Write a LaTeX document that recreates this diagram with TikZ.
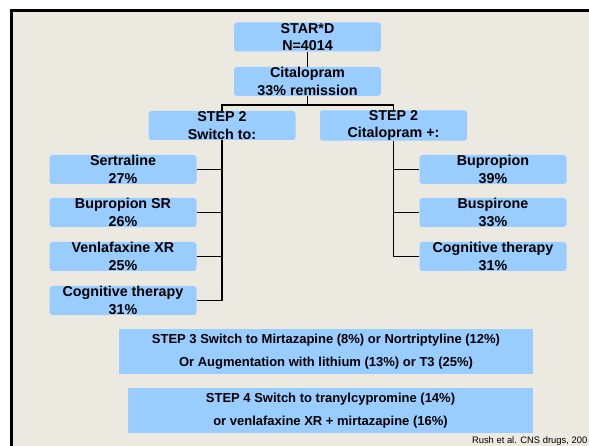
\documentclass[tikz,border=0pt]{standalone}
\usepackage{fontspec}
\setmainfont{Liberation Sans}
\definecolor{panelbg}{HTML}{ECE9E0}
\definecolor{boxblue}{HTML}{99CCFF}
\tikzset{
  rbox/.style={fill=boxblue, rounded corners=3pt, inner sep=0pt, minimum width=147pt, minimum height=29pt,
    align=center, font=\fontsize{14.3}{17.5}\selectfont\bfseries},
  sbox/.style={fill=boxblue, inner sep=0pt, minimum height=45pt, align=center,
    font=\fontsize{13}{23.5}\selectfont\bfseries},
  link/.style={line width=1.7pt, black}
}
\begin{document}
\begin{tikzpicture}[x=1pt,y=-1pt]
\useasboundingbox (0,0) rectangle (589,446);
\clip (0,0) rectangle (589,446);
\fill[white] (0,0) rectangle (589,446);
\draw[line width=3pt, fill=panelbg] (11,10.5) rectangle (620,480);

\node[rbox] (sd)  at (307.5,37)  {STAR*D\\N=4014};
\node[rbox] (cit) at (307.5,81.5) {Citalopram\\33\% remission};
\node[rbox] (s2l) at (222,125.5) {STEP 2\\Switch to:};
\node[rbox] (s2r) at (393.5,125.5) {STEP 2\\Citalopram +:};

\node[rbox] (l1) at (123,169.5) {Sertraline\\27\%};
\node[rbox] (l2) at (123,212.5) {Bupropion SR\\26\%};
\node[rbox] (l3) at (123,256.5) {Venlafaxine XR\\25\%};
\node[rbox] (l4) at (123,300.5) {Cognitive therapy\\31\%};

\node[rbox] (r1) at (493,169.5) {Bupropion\\39\%};
\node[rbox] (r2) at (493,212.5) {Buspirone\\33\%};
\node[rbox] (r3) at (493,256.5) {Cognitive therapy\\31\%};

\node[sbox, minimum width=414pt] (st3) at (326,351.5)
  {STEP 3 Switch to Mirtazapine (8\%) or Nortriptyline (12\%)\\Or Augmentation with lithium (13\%) or T3 (25\%)};
\node[sbox, minimum width=405pt] (st4) at (330.5,410.5)
  {STEP 4 Switch to tranylcypromine (14\%)\\or venlafaxine XR + mirtazapine (16\%)};

\node[anchor=base east, inner sep=0pt, font=\fontsize{9.4}{11}\selectfont] (cite) at (587.5,443) {Rush et al. CNS drugs, 200};

\coordinate (j) at (307.5,105);
\draw[link] (sd.south) -- (cit.north);
\draw[link] (cit.south) -- (j);
\draw[link] (j) -| (s2l.north);
\draw[link] (j) -| (s2r.north);

\draw[link] (s2l.south) |- (l1.east);
\draw[link] (s2l.south) |- (l2.east);
\draw[link] (s2l.south) |- (l3.east);
\draw[link] (s2l.south) |- (l4.east);

\draw[link] (s2r.south) |- (r1.west);
\draw[link] (s2r.south) |- (r2.west);
\draw[link] (s2r.south) |- (r3.west);
\end{tikzpicture}
\end{document}
